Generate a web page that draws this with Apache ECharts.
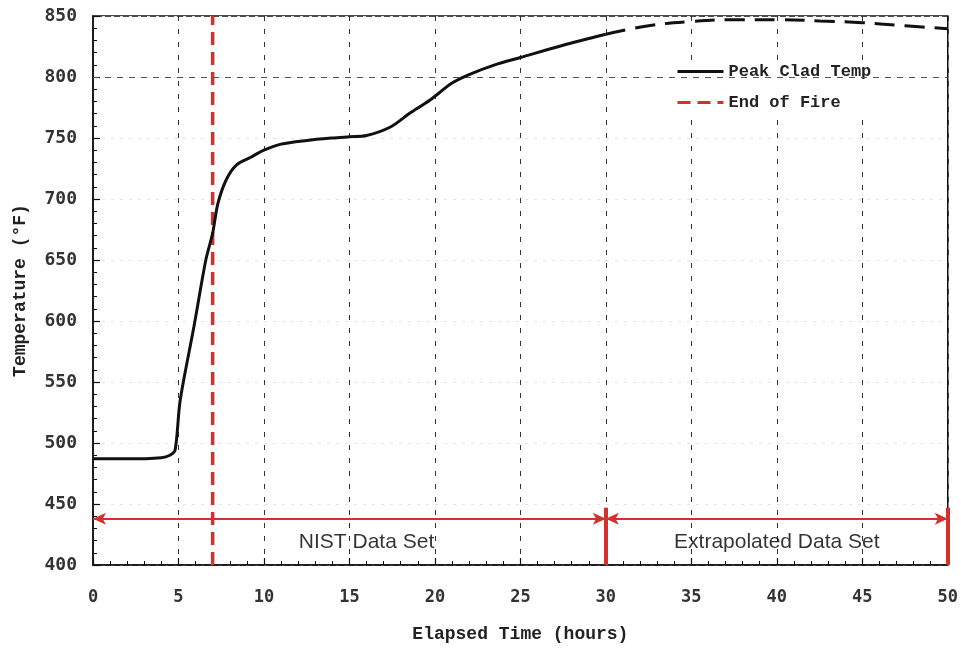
<!DOCTYPE html>
<html>
<head>
<meta charset="utf-8">
<script src="https://cdn.jsdelivr.net/npm/echarts@6/dist/echarts.min.js"></script>
<style>html,body{margin:0;padding:0;background:#fff}#c{width:961px;height:649px}</style>
</head>
<body>
<div id="c"></div>
<script>
// Measured data (hours, °F)
var timeNist = [0, 2, 4, 4.5, 4.8, 5.1, 5.9, 6.6, 7.0, 7.3, 7.8, 8.4, 9.2, 10, 11, 12.5, 14, 15, 16, 17.4, 18.5, 19.7, 21, 22, 23.5, 25, 27.5, 30];
var tempNist = [487, 487, 488, 490, 494, 535, 595, 650, 672, 696, 716, 728, 734, 740, 745, 748, 750, 751, 752, 759, 770, 781, 795, 802, 810, 816, 826, 835];
var timeExtrap = [30, 32.5, 35, 37.5, 40, 42.5, 45, 47.5, 50];
var tempExtrap = [835, 842, 845.5, 847, 847, 846, 844.5, 842, 839.5];
var endOfFireTime = 7;
var setBoundaries = [0, 30, 50];
var setArrowTemp = 438;
var setTickTop = 447;
var setLabels = ['NIST Data Set', 'Extrapolated Data Set'];
var setLabelPos = [16, 40];
var setLabelTemp = 419;
var xTicks = [0, 5, 10, 15, 20, 25, 30, 35, 40, 45, 50];
var yTicks = [400, 450, 500, 550, 600, 650, 700, 750, 800, 850];
var highlightGrid = 800;

var red = '#d3312d';
var nist = timeNist.map(function (t, i) { return [t, tempNist[i]]; });
var extrap = timeExtrap.map(function (t, i) { return [t, tempExtrap[i]]; });
var labelData = setLabels.map(function (s, i) { return [setLabelPos[i], setLabelTemp, s]; });

var chart = echarts.init(document.getElementById('c'));
chart.setOption({
  animation: false,
  backgroundColor: '#fff',
  grid: { left: 93, right: 12, top: 16, bottom: 84, show: true, borderColor: '#111', borderWidth: 1.5, backgroundColor: 'transparent' },
  legend: {
    data: ['Peak Clad Temp', 'End of Fire'],
    orient: 'vertical', left: 668, top: 60,
    backgroundColor: '#fff', padding: [3, 8, 3, 8],
    itemWidth: 46, itemHeight: 14, itemGap: 14, itemTextGap: 8,
    itemStyle: { opacity: 0 },
    lineStyle: { width: 3 },
    textStyle: { fontFamily: 'Liberation Mono', fontWeight: 'bold', fontSize: 17, color: '#222' },
    selectedMode: false
  },
  xAxis: {
    type: 'value', min: xTicks[0], max: xTicks[xTicks.length - 1], interval: 5,
    name: 'Elapsed Time (hours)', nameLocation: 'middle', nameGap: 60,
    nameTextStyle: { fontFamily: 'Liberation Mono', fontWeight: 'bold', fontSize: 18, color: '#222' },
    axisLine: { lineStyle: { color: '#111', width: 1.5 } },
    axisTick: { inside: true, length: 7, lineStyle: { color: '#111', width: 1.2 } },
    minorTick: { show: true, splitNumber: 5, length: 4, lineStyle: { color: '#111', width: 1 } },
    axisLabel: { margin: 24, fontFamily: 'DejaVu Sans Mono', fontWeight: 'bold', fontSize: 17, color: '#333' },
    splitLine: { show: true, lineStyle: { color: '#333', width: 1, type: [5, 8] } }
  },
  yAxis: {
    type: 'value', min: yTicks[0], max: yTicks[yTicks.length - 1], interval: 50,
    name: 'Temperature (°F)', nameLocation: 'middle', nameGap: 64,
    nameTextStyle: { fontFamily: 'Liberation Mono', fontWeight: 'bold', fontSize: 18, color: '#222' },
    axisLine: { show: true, lineStyle: { color: '#111', width: 1.5 } },
    axisTick: { show: true, inside: true, length: 7, lineStyle: { color: '#111', width: 1.2 } },
    minorTick: { show: true, splitNumber: 5, length: 4, lineStyle: { color: '#111', width: 1 } },
    axisLabel: { margin: 16, fontFamily: 'DejaVu Sans Mono', fontWeight: 'bold', fontSize: 18, color: '#333' },
    splitLine: { show: true, lineStyle: { color: '#e4e4e4', width: 1, type: [3, 6] } }
  },
  series: [
    {
      name: 'Grid800', type: 'line', data: [], silent: true,
      markLine: {
        silent: true, symbol: ['none', 'none'], label: { show: false },
        lineStyle: { color: '#555', width: 1, type: [6, 6] },
        data: [{ yAxis: highlightGrid }]
      }
    },
    {
      name: 'Peak Clad Temp', type: 'line', data: nist, showSymbol: false, symbol: 'none',
      smooth: 0.3, z: 5,
      lineStyle: { color: '#111', width: 3 }, itemStyle: { color: '#111' }
    },
    {
      name: 'Extrapolated', type: 'line', data: extrap, showSymbol: false, symbol: 'none',
      smooth: 0.4, z: 5,
      lineStyle: { color: '#111', width: 3, type: [20, 10] }
    },
    {
      name: 'End of Fire', type: 'line', data: [[endOfFireTime, yTicks[0]], [endOfFireTime, yTicks[yTicks.length - 1]]],
      showSymbol: false, symbol: 'none', z: 4,
      lineStyle: { color: red, width: 3.5, type: [13, 7] }, itemStyle: { color: red }
    },
    {
      name: 'Sets', type: 'line', data: [], silent: true, z: 6,
      markLine: {
        silent: true, label: { show: false }, animation: false,
        data: [
          [{ coord: [setBoundaries[0], setArrowTemp], symbol: 'arrow', symbolSize: [9, 13], lineStyle: { color: red, width: 2, type: 'solid' } },
           { coord: [setBoundaries[1], setArrowTemp], symbol: 'arrow', symbolSize: [9, 13] }],
          [{ coord: [setBoundaries[1], setArrowTemp], symbol: 'arrow', symbolSize: [9, 13], lineStyle: { color: red, width: 2, type: 'solid' } },
           { coord: [setBoundaries[2], setArrowTemp], symbol: 'arrow', symbolSize: [9, 13] }],
          [{ coord: [setBoundaries[1], yTicks[0]], symbol: 'none', lineStyle: { color: red, width: 4, type: 'solid' } },
           { coord: [setBoundaries[1], setTickTop], symbol: 'none' }],
          [{ coord: [setBoundaries[2], yTicks[0]], symbol: 'none', lineStyle: { color: red, width: 4, type: 'solid' } },
           { coord: [setBoundaries[2], setTickTop], symbol: 'none' }]
        ]
      }
    },
    {
      name: 'SetLabels', type: 'scatter', data: labelData, symbol: 'circle', symbolSize: 0, silent: true, z: 7,
      itemStyle: { color: '#fff' },
      label: {
        show: true, position: 'inside', formatter: function (p) { return p.data[2]; },
        fontFamily: 'Liberation Sans', fontSize: 21, color: '#000', textBorderWidth: 0
      }
    }
  ]
});
</script>
</body>
</html>
